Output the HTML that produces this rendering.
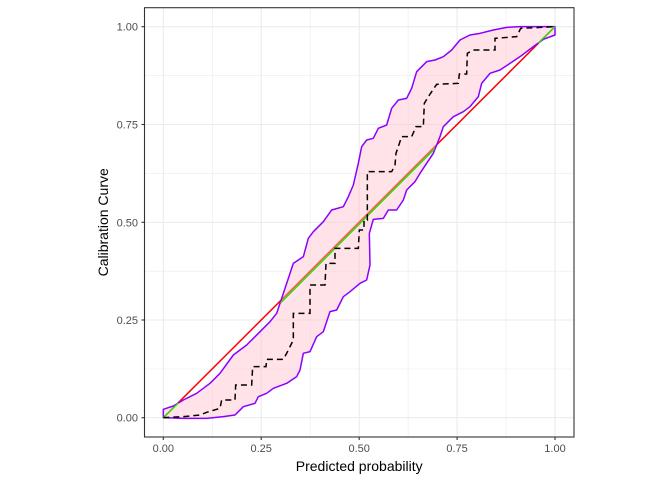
<!DOCTYPE html>
<html><head><meta charset="utf-8"><style>
html,body{margin:0;padding:0;background:#fff;}
svg{display:block;font-family:"Liberation Sans",sans-serif;}
</style></head><body>
<svg width="672" height="480" viewBox="0 0 672 480" xmlns="http://www.w3.org/2000/svg">
<rect x="0" y="0" width="672" height="480" fill="#fff"/>
<g stroke="#ebebeb" stroke-width="0.6">
<line x1="144.5" x2="574" y1="75.6" y2="75.6"/><line x1="144.5" x2="574" y1="173.4" y2="173.4"/>
<line x1="144.5" x2="574" y1="271.2" y2="271.2"/><line x1="144.5" x2="574" y1="369" y2="369"/>
<line y1="7.7" y2="437" x1="212.3" x2="212.3"/><line y1="7.7" y2="437" x1="310.2" x2="310.2"/>
<line y1="7.7" y2="437" x1="408.1" x2="408.1"/><line y1="7.7" y2="437" x1="506" x2="506"/>
</g>
<g stroke="#ebebeb" stroke-width="1.1">
<line x1="144.5" x2="574" y1="26.7" y2="26.7"/><line x1="144.5" x2="574" y1="124.5" y2="124.5"/>
<line x1="144.5" x2="574" y1="222.3" y2="222.3"/><line x1="144.5" x2="574" y1="320" y2="320"/>
<line x1="144.5" x2="574" y1="417.7" y2="417.7"/>
<line y1="7.7" y2="437" x1="163.3" x2="163.3"/><line y1="7.7" y2="437" x1="261.2" x2="261.2"/>
<line y1="7.7" y2="437" x1="359.2" x2="359.2"/><line y1="7.7" y2="437" x1="457.1" x2="457.1"/>
<line y1="7.7" y2="437" x1="555" x2="555" />
</g>
<g transform="translate(140,0) scale(0.33333)">
<line x1="70" y1="1253" x2="1245" y2="80" stroke="#ff0000" stroke-width="4.5"/>
<polygon fill="#ffc0cb" fill-opacity="0.45" stroke="#8b00ff" stroke-width="4.5" stroke-linejoin="round" points="70,1228 100,1218 130,1200 170,1180 210,1150 240,1120 280,1065 320,1035 360,995 390,965 410,940 430,880 445,835 460,790 490,770 505,715 520,695 550,665 575,630 610,620 625,590 640,555 655,490 665,440 680,420 700,415 715,385 740,375 755,325 775,300 800,295 815,265 830,215 860,185 885,180 910,170 935,150 960,120 990,105 1020,100 1060,90 1100,82 1140,80 1245,80 1245,105 1210,118 1180,140 1140,170 1110,190 1080,210 1050,220 1025,250 1015,290 990,320 970,335 940,350 910,380 900,410 880,460 860,490 840,520 825,545 800,570 790,600 770,630 745,630 730,655 700,658 688,700 690,795 680,840 660,850 630,875 610,890 590,930 570,935 550,995 530,1010 510,1055 490,1060 480,1110 470,1130 440,1150 400,1165 380,1180 355,1190 345,1210 310,1220 285,1245 250,1250 200,1255 130,1255 70,1253"/>
<g stroke="#33dd00" stroke-width="4.5">
<line x1="70" y1="1253" x2="115" y2="1209"/>
<line x1="422" y1="908" x2="884" y2="446"/>
<line x1="1195" y1="129" x2="1245" y2="80"/>
</g>
<polyline fill="none" stroke="#000" stroke-width="4.5" stroke-dasharray="18,12" points="70,1253 130,1250 180,1245 200,1237 240,1225 245,1200 285,1200 287,1155 335,1155 338,1100 378,1100 380,1078 430,1078 440,1060 460,1020 460,940 510,940 510,855 555,855 558,790 585,790 585,745 655,745 658,690 672,690 672,660 682,660 682,515 755,515 765,495 768,460 785,410 815,410 828,380 850,380 853,310 865,290 890,253 955,250 958,222 980,222 982,160 1000,150 1065,150 1065,115 1130,110 1142,85 1245,80"/>
</g>
<rect x="144.5" y="7.7" width="429.5" height="429.3" fill="none" stroke="#333" stroke-width="1.1"/>
<g stroke="#333" stroke-width="1.1">
<line x1="141.5" x2="144.5" y1="26.7" y2="26.7"/><line x1="141.5" x2="144.5" y1="124.5" y2="124.5"/>
<line x1="141.5" x2="144.5" y1="222.3" y2="222.3"/><line x1="141.5" x2="144.5" y1="320" y2="320"/>
<line x1="141.5" x2="144.5" y1="417.7" y2="417.7"/>
<line y1="437" y2="440" x1="163.3" x2="163.3"/><line y1="437" y2="440" x1="261.2" x2="261.2"/>
<line y1="437" y2="440" x1="359.2" x2="359.2"/><line y1="437" y2="440" x1="457.1" x2="457.1"/>
<line y1="437" y2="440" x1="555" x2="555"/>
</g>
<g fill="#4d4d4d" font-size="11" text-anchor="end">
<text x="138" y="30.7">1.00</text><text x="138" y="128.5">0.75</text>
<text x="138" y="226.3">0.50</text><text x="138" y="324">0.25</text><text x="138" y="421.7">0.00</text>
</g>
<g fill="#4d4d4d" font-size="11" text-anchor="middle">
<text x="163.3" y="452">0.00</text><text x="261.2" y="452">0.25</text><text x="359.2" y="452">0.50</text>
<text x="457.1" y="452">0.75</text><text x="555" y="452">1.00</text>
</g>
<text x="359.2" y="471" font-size="14" text-anchor="middle" fill="#000">Predicted probability</text>
<text transform="translate(108,222.3) rotate(-90)" font-size="14" text-anchor="middle" fill="#000">Calibration Curve</text>
</svg>
</body></html>
